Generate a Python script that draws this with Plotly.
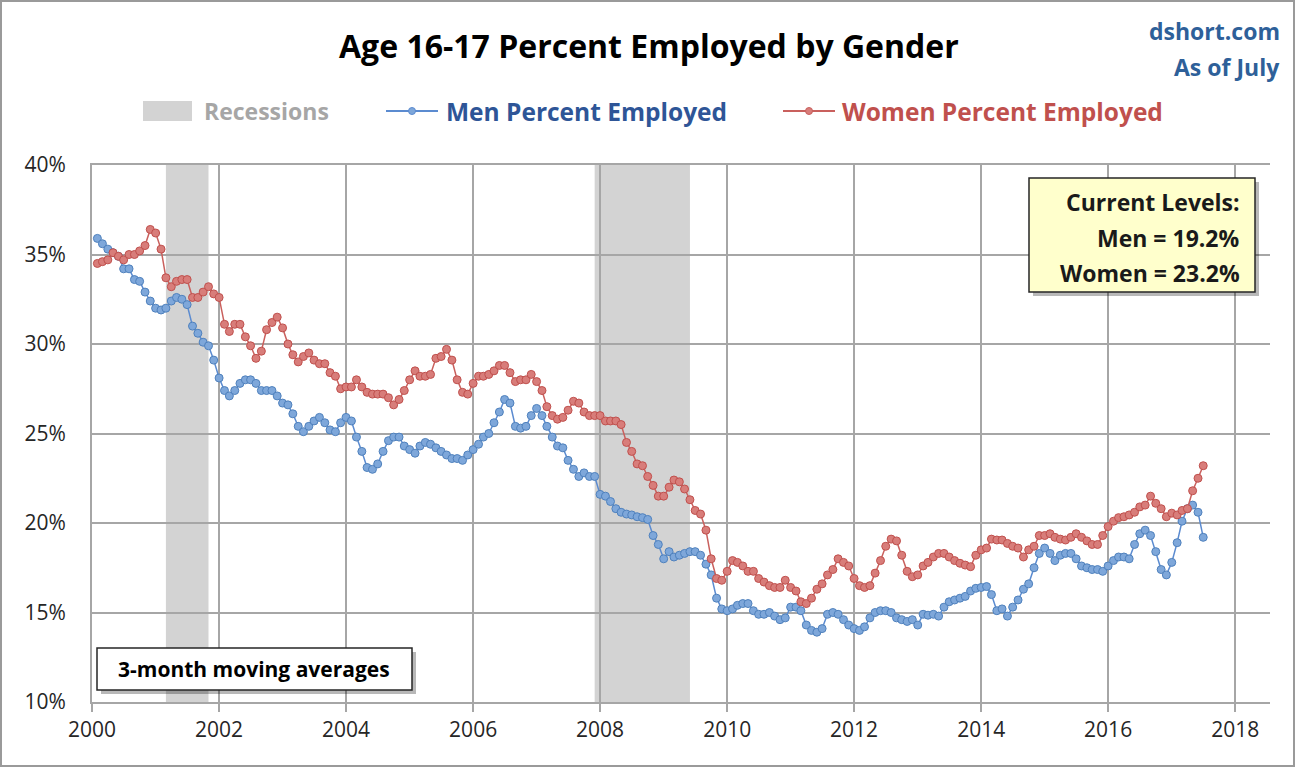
import pandas as pd
import plotly.graph_objects as go

# ---------------- data (3-month moving averages, monthly from Feb 2000 to Jul 2017) ----------------
start_month = "2000-02-01"

men_pct = [
    35.9, 35.6, 35.3, 35.1, 34.9, 34.2, 34.2, 33.6, 33.5, 32.9, 32.4,            # 2000 Feb-Dec
    32.0, 31.9, 32.0, 32.4, 32.6, 32.5, 32.2, 31.0, 30.6, 30.1, 29.9, 29.1,      # 2001
    28.1, 27.4, 27.1, 27.4, 27.8, 28.0, 28.0, 27.8, 27.4, 27.4, 27.4, 27.1,      # 2002
    26.7, 26.6, 26.1, 25.4, 25.1, 25.4, 25.7, 25.9, 25.6, 25.2, 25.1, 25.6,      # 2003
    25.9, 25.7, 24.8, 24.0, 23.1, 23.0, 23.3, 24.0, 24.6, 24.8, 24.8, 24.3,      # 2004
    24.1, 23.9, 24.3, 24.5, 24.4, 24.2, 24.0, 23.8, 23.6, 23.6, 23.5, 23.8,      # 2005
    24.1, 24.4, 24.8, 25.0, 25.6, 26.2, 26.9, 26.7, 25.4, 25.3, 25.4, 26.0,      # 2006
    26.4, 26.0, 25.4, 24.8, 24.3, 24.2, 23.5, 23.0, 22.6, 22.8, 22.6, 22.6,      # 2007
    21.6, 21.5, 21.2, 20.8, 20.6, 20.5, 20.45, 20.35, 20.3, 20.2, 19.3, 18.8,    # 2008
    18.0, 18.4, 18.1, 18.2, 18.3, 18.4, 18.4, 18.2, 17.7, 17.1, 15.8, 15.2,      # 2009
    15.1, 15.2, 15.4, 15.5, 15.5, 15.1, 14.9, 14.9, 15.0, 14.8, 14.6, 14.7,      # 2010
    15.3, 15.3, 15.1, 14.3, 14.0, 13.9, 14.1, 14.9, 15.0, 14.9, 14.6, 14.3,      # 2011
    14.1, 14.0, 14.2, 14.7, 15.0, 15.1, 15.1, 15.0, 14.7, 14.6, 14.5, 14.6,      # 2012
    14.3, 14.9, 14.85, 14.9, 14.8, 15.3, 15.6, 15.7, 15.8, 15.9, 16.2, 16.35,    # 2013
    16.4, 16.45, 16.0, 15.1, 15.2, 14.8, 15.3, 15.7, 16.3, 16.6, 17.5, 18.3,     # 2014
    18.6, 18.3, 17.9, 18.2, 18.3, 18.3, 18.0, 17.6, 17.5, 17.4, 17.4, 17.3,      # 2015
    17.6, 17.9, 18.1, 18.1, 18.0, 18.8, 19.4, 19.6, 19.3, 18.4, 17.4, 17.1,      # 2016
    17.8, 18.9, 20.1, 20.8, 21.0, 20.6, 19.2,                                    # 2017 Jan-Jul
]

women_pct = [
    34.5, 34.6, 34.7, 35.1, 34.9, 34.7, 35.0, 35.0, 35.2, 35.5, 36.4,            # 2000 Feb-Dec
    36.2, 35.3, 33.7, 33.2, 33.5, 33.6, 33.6, 32.6, 32.6, 32.9, 33.2, 32.8,      # 2001
    32.6, 31.1, 30.7, 31.1, 31.1, 30.4, 29.9, 29.2, 29.6, 30.8, 31.2, 31.5,      # 2002
    30.9, 30.0, 29.4, 29.0, 29.3, 29.5, 29.1, 28.9, 28.9, 28.4, 28.2, 27.5,      # 2003
    27.6, 27.6, 28.0, 27.6, 27.3, 27.2, 27.2, 27.2, 27.0, 26.6, 26.9, 27.4,      # 2004
    28.0, 28.5, 28.2, 28.2, 28.3, 29.2, 29.3, 29.7, 29.1, 28.0, 27.3, 27.2,      # 2005
    27.8, 28.2, 28.2, 28.3, 28.5, 28.8, 28.8, 28.4, 27.9, 28.0, 28.0, 28.3,      # 2006
    27.9, 27.4, 26.5, 26.0, 25.8, 25.9, 26.3, 26.8, 26.7, 26.2, 26.0, 26.0,      # 2007
    26.0, 25.7, 25.7, 25.7, 25.5, 24.5, 24.0, 23.3, 23.2, 22.6, 22.1, 21.5,      # 2008
    21.5, 22.0, 22.4, 22.3, 21.9, 21.3, 20.7, 20.5, 19.6, 18.0, 16.9, 16.8,      # 2009
    17.3, 17.9, 17.8, 17.6, 17.3, 17.3, 16.9, 16.7, 16.5, 16.4, 16.4, 16.8,      # 2010
    16.4, 16.2, 15.6, 15.5, 15.8, 16.3, 16.6, 17.1, 17.4, 18.0, 17.8, 17.6,      # 2011
    16.9, 16.5, 16.4, 16.5, 17.2, 17.9, 18.7, 19.1, 19.0, 18.2, 17.3, 17.0,      # 2012
    17.1, 17.6, 17.8, 18.1, 18.3, 18.3, 18.1, 17.9, 17.75, 17.65, 17.56, 18.2,   # 2013
    18.5, 18.6, 19.1, 19.05, 19.05, 18.86, 18.7, 18.6, 18.1, 18.5, 18.7, 19.3,   # 2014
    19.3, 19.4, 19.2, 19.1, 19.05, 19.2, 19.4, 19.2, 19.0, 18.8, 18.8, 19.3,     # 2015
    19.8, 20.1, 20.3, 20.35, 20.45, 20.6, 20.9, 21.0, 21.5, 21.1, 20.8, 20.35,   # 2016
    20.55, 20.45, 20.7, 20.8, 21.8, 22.5, 23.2,                                  # 2017 Jan-Jul
]

recession_starts = ["2001-03-01", "2007-12-01"]
recession_ends = ["2001-11-01", "2009-06-01"]

x_tick_years = [2000, 2002, 2004, 2006, 2008, 2010, 2012, 2014, 2016, 2018]
y_ticks = [10, 15, 20, 25, 30, 35, 40]

title_text = "Age 16-17 Percent Employed by Gender"
source_lines = ["dshort.com", "As of July"]
series_names = ["Men Percent Employed", "Women Percent Employed"]
recession_label = "Recessions"
note_text = "3-month moving averages"

# ---------------- styling ----------------
W, H = 1295, 767
L, R, T, B = 92, 25, 165, 65
PW, PH = W - L - R, H - T - B
FONT = "Open Sans"
MEN_LINE, MEN_MARK, MEN_EDGE, MEN_TEXT = "#5b8bd0", "#7ea7da", "#4f81bd", "#2e5597"
WOM_LINE, WOM_MARK, WOM_EDGE, WOM_TEXT = "#c9605d", "#d87d7a", "#c0504d", "#c0504d"
GRID = "#a6a6a6"
REC = "#d3d3d3"


def px(xp):
    return (xp - L) / PW


def py(yp):
    return (H - B - yp) / PH


men_dates = pd.date_range(start_month, periods=len(men_pct), freq="MS")
women_dates = pd.date_range(start_month, periods=len(women_pct), freq="MS")

fig = go.Figure()

fig.add_trace(go.Scatter(
    x=men_dates, y=men_pct, mode="lines+markers", name=series_names[0],
    line=dict(color=MEN_LINE, width=1.5),
    marker=dict(size=8, color=MEN_MARK, line=dict(color=MEN_EDGE, width=1)),
    showlegend=False,
))
fig.add_trace(go.Scatter(
    x=women_dates, y=women_pct, mode="lines+markers", name=series_names[1],
    line=dict(color=WOM_LINE, width=1.5),
    marker=dict(size=8, color=WOM_MARK, line=dict(color=WOM_EDGE, width=1)),
    showlegend=False,
))

shapes = []
# recession bands (below gridlines)
for s, e in zip(recession_starts, recession_ends):
    shapes.append(dict(type="rect", xref="x", yref="paper", x0=s, x1=e, y0=0, y1=1,
                       fillcolor=REC, line=dict(width=0), layer="below"))

# outer frame of the whole picture
shapes.append(dict(type="rect", xref="paper", yref="paper",
                   x0=px(1), x1=px(W - 1), y0=py(H - 1), y1=py(1),
                   line=dict(color="#9a9a9a", width=2), fillcolor="rgba(0,0,0,0)", layer="above"))

# legend symbols
shapes.append(dict(type="rect", xref="paper", yref="paper",
                   x0=px(143), x1=px(192), y0=py(121), y1=py(101),
                   fillcolor=REC, line=dict(width=0)))
for (x0, x1, col, mcol) in [(386, 438, MEN_LINE, MEN_MARK), (783, 835, WOM_LINE, WOM_MARK)]:
    shapes.append(dict(type="line", xref="paper", yref="paper",
                       x0=px(x0), x1=px(x1), y0=py(111), y1=py(111),
                       line=dict(color=col, width=2)))
    cx = (x0 + x1) / 2
    shapes.append(dict(type="circle", xref="paper", yref="paper",
                       x0=px(cx - 3.5), x1=px(cx + 3.5), y0=py(114.5), y1=py(107.5),
                       fillcolor=mcol, line=dict(color=col, width=1)))

# current levels box (shadow + box)
shapes.append(dict(type="rect", xref="paper", yref="paper",
                   x0=px(1033), x1=px(1259), y0=py(296), y1=py(182),
                   fillcolor="rgba(0,0,0,0.28)", line=dict(width=0), layer="above"))
shapes.append(dict(type="rect", xref="paper", yref="paper",
                   x0=px(1029), x1=px(1255), y0=py(292), y1=py(178),
                   fillcolor="#ffffcc", line=dict(color="#262626", width=1.5), layer="above"))
# note box (shadow + box)
shapes.append(dict(type="rect", xref="paper", yref="paper",
                   x0=px(101), x1=px(416), y0=py(694), y1=py(652),
                   fillcolor="rgba(0,0,0,0.28)", line=dict(width=0), layer="above"))
shapes.append(dict(type="rect", xref="paper", yref="paper",
                   x0=px(97), x1=px(412), y0=py(690), y1=py(648),
                   fillcolor="#ffffff", line=dict(color="#262626", width=1.5), layer="above"))

annotations = [
    dict(text=f"<b>{title_text}</b>", x=px(649), y=py(46), xref="paper", yref="paper",
         showarrow=False, xanchor="center", yanchor="middle",
         font=dict(family=FONT, size=32, color="#000000")),
    dict(text=f"<b>{source_lines[0]}</b>", x=px(1282), y=py(31), xref="paper", yref="paper",
         showarrow=False, xanchor="right", yanchor="middle",
         font=dict(family=FONT, size=23, color="#2e6099")),
    dict(text=f"<b>{source_lines[1]}</b>", x=px(1282), y=py(67), xref="paper", yref="paper",
         showarrow=False, xanchor="right", yanchor="middle",
         font=dict(family=FONT, size=23, color="#2e6099")),
    dict(text=f"<b>{recession_label}</b>", x=px(202), y=py(111), xref="paper", yref="paper",
         showarrow=False, xanchor="left", yanchor="middle",
         font=dict(family=FONT, size=23, color="#a6a6a6")),
    dict(text=f"<b>{series_names[0]}</b>", x=px(444), y=py(111), xref="paper", yref="paper",
         showarrow=False, xanchor="left", yanchor="middle",
         font=dict(family=FONT, size=24.5, color=MEN_TEXT)),
    dict(text=f"<b>{series_names[1]}</b>", x=px(840), y=py(111), xref="paper", yref="paper",
         showarrow=False, xanchor="left", yanchor="middle",
         font=dict(family=FONT, size=24.5, color=WOM_TEXT)),
    dict(text="<b>Current Levels:</b>", x=px(1242), y=py(202), xref="paper", yref="paper",
         showarrow=False, xanchor="right", yanchor="middle",
         font=dict(family=FONT, size=23, color="#1a1a1a")),
    dict(text=f"<b>Men = {men_pct[-1]:.1f}%</b>", x=px(1242), y=py(238), xref="paper", yref="paper",
         showarrow=False, xanchor="right", yanchor="middle",
         font=dict(family=FONT, size=23, color="#1a1a1a")),
    dict(text=f"<b>Women = {women_pct[-1]:.1f}%</b>", x=px(1242), y=py(273), xref="paper", yref="paper",
         showarrow=False, xanchor="right", yanchor="middle",
         font=dict(family=FONT, size=23, color="#1a1a1a")),
    dict(text=f"<b>{note_text}</b>", x=px(254), y=py(669), xref="paper", yref="paper",
         showarrow=False, xanchor="center", yanchor="middle",
         font=dict(family=FONT, size=21, color="#000000")),
]

fig.update_layout(
    width=W, height=H,
    margin=dict(l=L, r=R, t=T, b=B, pad=0),
    paper_bgcolor="#ffffff", plot_bgcolor="rgba(0,0,0,0)",
    shapes=shapes, annotations=annotations, showlegend=False,
    font=dict(family=FONT, color="#262626"),
)

fig.update_xaxes(
    type="date", range=["2000-01-01", "2018-07-20"],
    tickvals=[f"{y}-01-01" for y in x_tick_years], ticktext=[str(y) for y in x_tick_years],
    showgrid=True, gridcolor=GRID, gridwidth=2,
    showline=True, linecolor=GRID, linewidth=2, mirror=True,
    ticks="outside", ticklen=8, tickcolor=GRID, tickwidth=2,
    tickfont=dict(family=FONT, size=21, color="#262626"),
    zeroline=False,
)
fig.update_yaxes(
    range=[10, 40], tickvals=y_ticks, ticktext=[f"{v}%" for v in y_ticks],
    showgrid=True, gridcolor=GRID, gridwidth=2,
    showline=True, linecolor=GRID, linewidth=2, mirror=False,
    ticks="", ticklabelstandoff=20,
    tickfont=dict(family=FONT, size=21, color="#262626"),
    zeroline=False,
)

fig.write_html(
    "out.html",
    config={"displayModeBar": False},
    post_script="document.body.style.margin='0';document.body.style.overflow='hidden';",
)
